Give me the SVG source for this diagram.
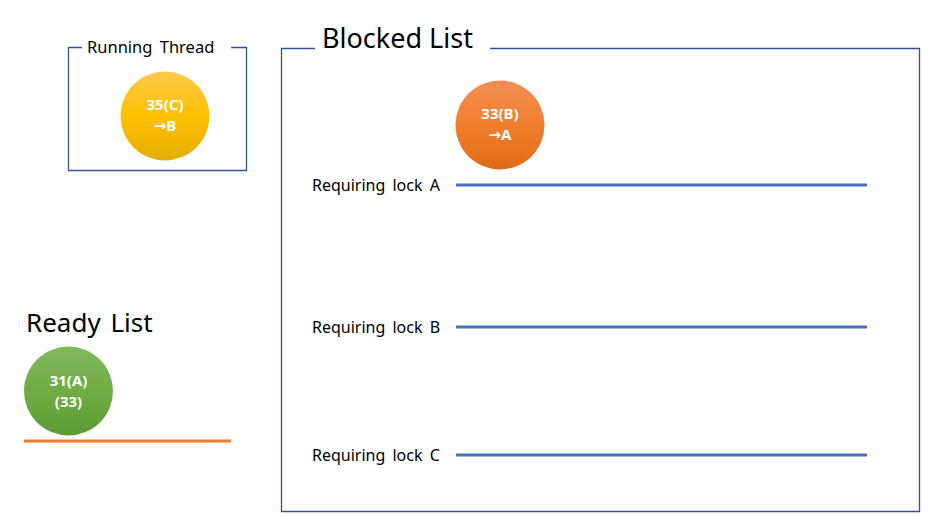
<svg xmlns="http://www.w3.org/2000/svg" width="932" height="522" viewBox="0 0 932 522">
<style>
.frame{fill:none;stroke:#2F5597;stroke-width:1.3}
.lbl{font-family:"Noto Sans","Open Sans",sans-serif;fill:#000}
.lock-lbl{font-size:16px;word-spacing:3px}
.ctext{font-family:"Noto Sans","Open Sans",sans-serif;font-weight:bold;font-size:15px;fill:#fff;text-anchor:middle}
.arr{font-family:"DejaVu Sans",sans-serif;font-weight:bold}
.lock{stroke:#4472C4;stroke-width:3;fill:none}
</style>
<defs>
<linearGradient id="gy" x1="0" y1="0" x2="0" y2="1"><stop offset="0" stop-color="#FFC94D"/><stop offset="0.5" stop-color="#FFC000"/><stop offset="1" stop-color="#E3AE05"/></linearGradient>
<linearGradient id="go" x1="0" y1="0" x2="0" y2="1"><stop offset="0" stop-color="#F28D55"/><stop offset="0.5" stop-color="#F27F2E"/><stop offset="1" stop-color="#E06A18"/></linearGradient>
<linearGradient id="gg" x1="0" y1="0" x2="0" y2="1"><stop offset="0" stop-color="#80BA5E"/><stop offset="0.5" stop-color="#6FAC44"/><stop offset="1" stop-color="#5C9C34"/></linearGradient>
</defs>
<g id="running-thread">
<path class="frame" d="M82,47.5 H68.5 V170.5 H246.5 V47.5 H231"/>
<text class="lbl" x="87" y="53" font-size="16.5" word-spacing="3">Running Thread</text>
</g>
<g id="blocked-list">
<path class="frame" d="M315,48.5 H281.5 V511.5 H919.5 V48.5 H490"/>
<text class="lbl" x="322" y="48" font-size="27">Blocked List</text>
</g>
<g id="node-35C">
<circle cx="165" cy="116" r="44.5" fill="url(#gy)"/>
<text class="ctext" x="165" y="110">35(C)</text>
<text class="ctext" x="165" y="131"><tspan class="arr">→</tspan>B</text>
</g>
<g id="node-33B">
<circle cx="500" cy="125" r="44.5" fill="url(#go)"/>
<text class="ctext" x="500" y="119">33(B)</text>
<text class="ctext" x="500" y="140"><tspan class="arr">→</tspan>A</text>
</g>
<g id="ready-list">
<text class="lbl" x="26" y="332" font-size="26" word-spacing="3">Ready List</text>
</g>
<g id="node-31A">
<circle cx="68.5" cy="391" r="44.5" fill="url(#gg)"/>
<text class="ctext" x="68.5" y="386">31(A)</text>
<text class="ctext" x="68.5" y="407">(33)</text>
</g>
<g id="lock-labels">
<text class="lbl lock-lbl" x="312" y="191">Requiring lock A</text>
<text class="lbl lock-lbl" x="312" y="333">Requiring lock B</text>
<text class="lbl lock-lbl" x="312" y="461">Requiring lock C</text>
</g>
<g id="connectors">
<line class="lock" x1="456" y1="185" x2="867" y2="185"/>
<line class="lock" x1="456" y1="327" x2="867" y2="327"/>
<line class="lock" x1="456" y1="455" x2="867" y2="455"/>
<line x1="24" y1="441" x2="231" y2="441" stroke="#ED7D31" stroke-width="3"/>
</g>
</svg>
